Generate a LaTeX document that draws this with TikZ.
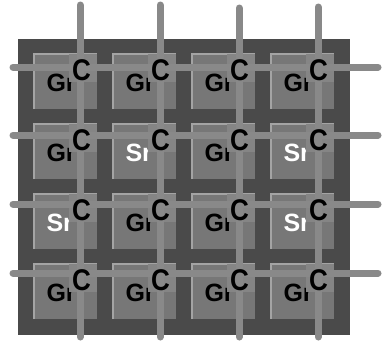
\documentclass[tikz,border=0pt]{standalone}
\usepackage{fontspec}
\setmainfont{Liberation Sans}
\definecolor{boardgray}{HTML}{4A4A4A}
\definecolor{cellgray}{HTML}{777777}
\definecolor{rimgray}{HTML}{A4A4A4}
\definecolor{wiregray}{HTML}{898989}
\definecolor{boxgray}{HTML}{858585}
\tikzset{
  cell/.style={fill=cellgray, minimum width=63pt, minimum height=55pt, inner sep=0pt},
  rim/.style={draw=rimgray, line width=2pt},
  cbox/.style={fill=boxgray, minimum width=28pt, minimum height=28pt, inner sep=0pt},
  wire/.style={draw=wiregray, line width=7pt, line cap=round},
  gname/.style={inner sep=0pt, font=\fontsize{25}{25}\selectfont\bfseries, text=black},
  sname/.style={gname, text=white},
  cmark/.style={inner sep=0pt, yscale=1.15, font=\fontsize{26}{26}\selectfont\bfseries, text=black}
}
\begin{document}
\begin{tikzpicture}[x=1pt,y=-1pt]
        \useasboundingbox (0,0) rectangle (382,341);
        \fill[boardgray] (18,39) rectangle (350,335);
        % cells
        \foreach \r/\y in {1/81.5,2/151.5,3/221.5,4/291.5}
          \foreach \c/\x in {1/65.5,2/144.5,3/223.5,4/302.5}{
            \node[cell] (g\r\c) at (\x,\y) {};
            \draw[rim] (g\r\c.south west) -- (g\r\c.north west) -- (g\r\c.north east);
          }
        % names
        \foreach \r/\c/\txt/\st in {1/1/Gr/gname,1/2/Gr/gname,1/3/Gr/gname,1/4/Gr/gname,
                                   2/1/Gr/gname,2/2/Sr/sname,2/3/Gr/gname,2/4/Sr/sname,
                                   3/1/Sr/sname,3/2/Gr/gname,3/3/Gr/gname,3/4/Sr/sname,
                                   4/1/Gr/gname,4/2/Gr/gname,4/3/Gr/gname,4/4/Gr/gname}
          \node[\st, anchor=base west] (t\r\c) at ([xshift=12.5pt,yshift=-10pt]g\r\c.west) {\txt};
        % contact boxes
        \foreach \r in {1,...,4}
          \foreach \c in {1,...,4}
            \node[cbox, anchor=north east] (k\r\c) at (g\r\c.north east) {};
        % wires
        \foreach \c/\x/\t in {1/80/5,2/160/5,3/239/8,4/318/7}{
          \coordinate (vt\c) at (\x,\t);
          \coordinate (vb\c) at (\x,337);
          \draw[wire] (vt\c) -- (vb\c);
        }
        \foreach \r/\y in {1/67,2/135,3/204,4/273}{
          \coordinate (hl\r) at (13,\y);
          \coordinate (hr\r) at (378,\y);
          \draw[wire] (hl\r) -- (hr\r);
        }
        % contacts
        \foreach \r in {1,...,4}
          \foreach \c in {1,...,4}
            \node[cmark, anchor=base] (c\r\c) at ([xshift=-1.5pt,yshift=2pt]k\r\c.south) {C};
\end{tikzpicture}
\end{document}
